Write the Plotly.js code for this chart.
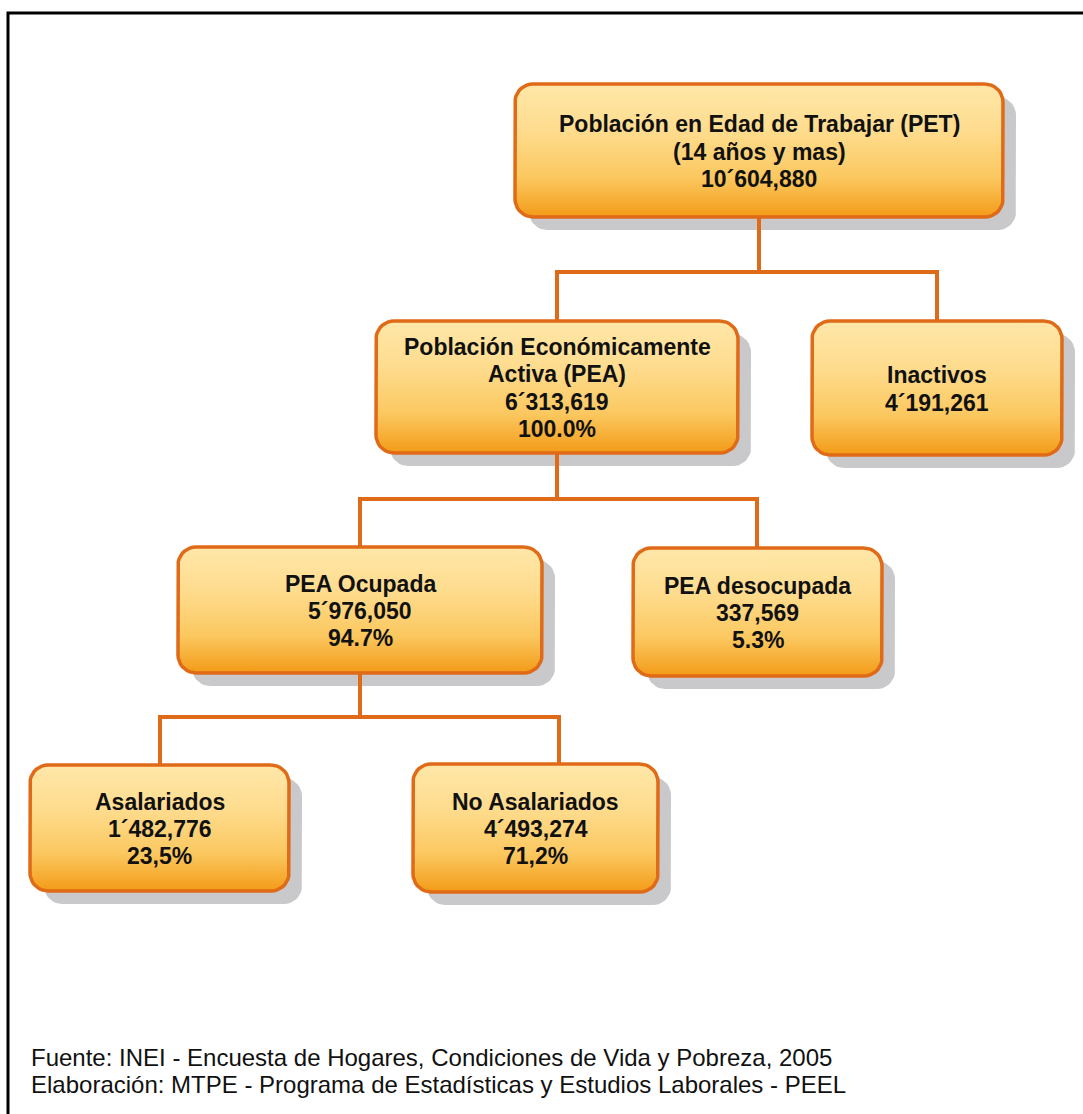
<!DOCTYPE html>
<html>
<head>
<meta charset="utf-8">
<script src="https://cdn.plot.ly/plotly-3.0.1.min.js"></script>
<style>
  html, body { margin: 0; padding: 0; background: #fff; }
  #chart { width: 1083px; height: 1114px; }
</style>
</head>
<body>
<div id="chart"></div>
<script>
// data
var nodeNames = [
  ["Población en Edad de Trabajar (PET)", "(14 años y mas)"],
  ["Población Económicamente", "Activa (PEA)"],
  ["Inactivos"],
  ["PEA Ocupada"],
  ["PEA desocupada"],
  ["Asalariados"],
  ["No Asalariados"]
];
var nodeCounts = ["10´604,880", "6´313,619", "4´191,261", "5´976,050", "337,569", "1´482,776", "4´493,274"];
var nodeShares = ["", "100.0%", "", "94.7%", "5.3%", "23,5%", "71,2%"];
var nodeParent = [-1, 0, 0, 1, 1, 3, 3];

var sourceLines = [
  "Fuente: INEI - Encuesta de Hogares, Condiciones de Vida y Pobreza, 2005",
  "Elaboración: MTPE - Programa de Estadísticas y Estudios Laborales - PEEL"
];

// box geometry (pixel-like axis units)
var boxLeft   = [515, 376, 812, 178, 633, 30, 413];
var boxRight  = [1003, 738, 1062, 542, 882, 289, 658];
var boxTop    = [84, 321, 321, 547, 548, 765, 764];
var boxBottom = [217, 453, 455, 673, 676, 891, 892];
var anchorX   = [759, 557, 937, 360, 757, 160, 559];
var elbowY    = {0: 272, 1: 499, 3: 717};

var orange = "#DF6A17";
var radius = 18;
var lineGap = 27.3;
var fontFam = "Liberation Sans, Arial, sans-serif";

function roundRect(x0, y0, x1, y1, r) {
  var xs = [], ys = [];
  var corners = [
    [x1 - r, y0 + r, -90, 0],
    [x1 - r, y1 - r, 0, 90],
    [x0 + r, y1 - r, 90, 180],
    [x0 + r, y0 + r, 180, 270]
  ];
  corners.forEach(function (c) {
    for (var a = c[2]; a <= c[3]; a += 10) {
      var t = a * Math.PI / 180;
      xs.push(c[0] + r * Math.cos(t));
      ys.push(c[1] + r * Math.sin(t));
    }
  });
  xs.push(xs[0]); ys.push(ys[0]);
  return {x: xs, y: ys};
}

var traces = [];

// shadows
for (var i = 0; i < nodeNames.length; i++) {
  var s = roundRect(boxLeft[i] + 14, boxTop[i] + 13, boxRight[i] + 13, boxBottom[i] + 13, radius);
  traces.push({
    x: s.x, y: s.y, mode: "lines", fill: "toself",
    fillcolor: "#C9C9CB", line: {width: 0, color: "rgba(0,0,0,0)"},
    hoverinfo: "skip", showlegend: false
  });
}

// connectors
for (var i = 0; i < nodeNames.length; i++) {
  var p = nodeParent[i];
  if (p < 0) continue;
  var ey = elbowY[p];
  traces.push({
    x: [anchorX[p], anchorX[p], anchorX[i], anchorX[i]],
    y: [boxBottom[p], ey, ey, boxTop[i]],
    mode: "lines", line: {color: orange, width: 4},
    hoverinfo: "skip", showlegend: false
  });
}

// boxes
for (var i = 0; i < nodeNames.length; i++) {
  var b = roundRect(boxLeft[i], boxTop[i], boxRight[i], boxBottom[i], radius);
  traces.push({
    x: b.x, y: b.y, mode: "lines", fill: "toself",
    fillgradient: {
      type: "vertical",
      colorscale: [[0, "#F39B17"], [0.3, "#FBC860"], [0.65, "#FEDC8E"], [1, "#FFE7A9"]]
    },
    line: {color: orange, width: 3.5},
    hoverinfo: "skip", showlegend: false
  });
}

// labels, one annotation per line so the spacing can follow the original
var annotations = [];
for (var i = 0; i < nodeNames.length; i++) {
  var lines = nodeNames[i].concat([nodeCounts[i]]);
  if (nodeShares[i]) lines.push(nodeShares[i]);
  var cy = (boxTop[i] + boxBottom[i]) / 2 + 1;
  lines.forEach(function (ln, k) {
    annotations.push({
      x: (boxLeft[i] + boxRight[i]) / 2,
      y: cy + (k - (lines.length - 1) / 2) * lineGap,
      xref: "x", yref: "y", showarrow: false,
      yanchor: "middle", text: ln, align: "center",
      font: {family: fontFam, size: 23, color: "#111", weight: "bold"}
    });
  });
}
sourceLines.forEach(function (line, k) {
  annotations.push({
    x: 29, y: 1057 + k * 27, xref: "x", yref: "y",
    xanchor: "left", yanchor: "middle", showarrow: false,
    text: line, align: "left",
    font: {family: fontFam, size: 24, color: "#111"}
  });
});

var layout = {
  width: 1083, height: 1114,
  margin: {l: 0, r: 0, t: 0, b: 0},
  paper_bgcolor: "#fff", plot_bgcolor: "#fff",
  xaxis: {range: [0, 1083], visible: false, fixedrange: true},
  yaxis: {range: [1114, 0], visible: false, fixedrange: true},
  shapes: [{
    type: "rect", xref: "x", yref: "y",
    x0: 8, y0: 13, x1: 1120, y1: 1150,
    line: {color: "#000", width: 3}, fillcolor: "rgba(0,0,0,0)", layer: "above"
  }],
  annotations: annotations,
  showlegend: false
};

Plotly.newPlot("chart", traces, layout, {staticPlot: true, displayModeBar: false});
</script>
</body>
</html>
